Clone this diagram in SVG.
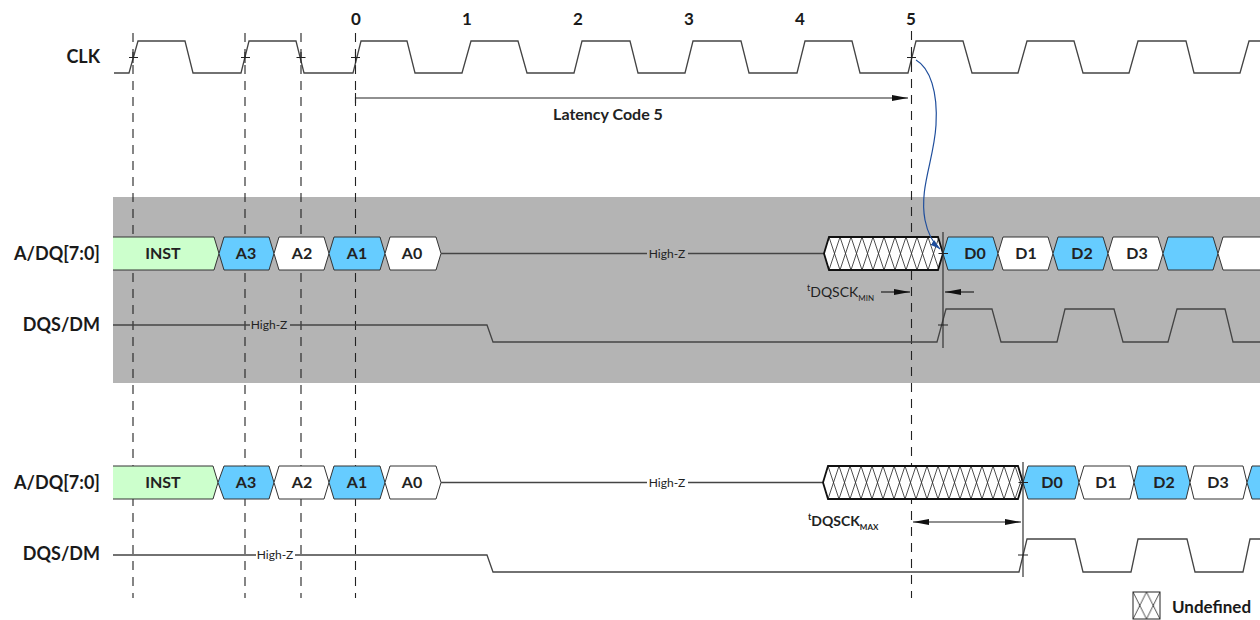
<svg xmlns="http://www.w3.org/2000/svg" width="1260" height="620" viewBox="0 0 1260 620">
<style>
.lbl{font-family:Lato,"Liberation Sans",sans-serif;font-weight:bold;font-size:18px;fill:#1a1a1a;text-anchor:end}
.num{font-family:Lato,"Liberation Sans",sans-serif;font-weight:bold;font-size:17px;fill:#1a1a1a;text-anchor:middle}
.box{font-family:Lato,"Liberation Sans",sans-serif;font-weight:bold;font-size:16px;fill:#222;text-anchor:middle}
.hz{font-family:Lato,"Liberation Sans",sans-serif;font-size:12px;fill:#222;text-anchor:middle}
.tm{font-family:Lato,"Liberation Sans",sans-serif;font-size:14px;fill:#222}
.wave{fill:none;stroke:#444;stroke-width:1.3}
.dash{fill:none;stroke:#222;stroke-width:1.1;stroke-dasharray:9,7}
.tick{fill:none;stroke:#222;stroke-width:1.1}
.hex{stroke:#333;stroke-width:1}
.blue{fill:#66ccff}
.white{fill:#ffffff}
.arr{fill:none;stroke:#222;stroke-width:1.2}
</style>
<defs>
<marker id="ah" viewBox="0 0 16 6" refX="16" refY="3" markerWidth="16" markerHeight="6" markerUnits="userSpaceOnUse" orient="auto-start-reverse">
<path d="M0,0 L16,3 L0,6 z" fill="#111"/>
</marker>
<marker id="ahb" viewBox="0 0 10 6" refX="10" refY="3" markerWidth="10" markerHeight="6" markerUnits="userSpaceOnUse" orient="auto">
<path d="M0,0 L10,3 L0,6 z" fill="#1f4e9c"/>
</marker>
<pattern id="hatchTop" patternUnits="userSpaceOnUse" x="829" y="237" width="11" height="33">
<rect width="11" height="33" fill="#fff"/>
<path d="M0,0 L11,33 M11,0 L0,33" stroke="#222" stroke-width="0.8"/>
</pattern>
<pattern id="hatchBot" patternUnits="userSpaceOnUse" x="828" y="466" width="11" height="33">
<rect width="11" height="33" fill="#fff"/>
<path d="M0,0 L11,33 M11,0 L0,33" stroke="#222" stroke-width="0.8"/>
</pattern>
<pattern id="hatchLeg" patternUnits="userSpaceOnUse" x="1133" y="592" width="13.5" height="27">
<rect width="13.5" height="27" fill="#fff"/>
<path d="M0,0 L13.5,27 M13.5,0 L0,27" stroke="#222" stroke-width="0.8"/>
</pattern>
</defs>

<rect width="1260" height="620" fill="#ffffff"/>
<rect id="band" x="113" y="197" width="1147" height="186" fill="#b4b4b4"/>

<g id="cycle-numbers">
<text class="num" x="356" y="25">0</text>
<text class="num" x="467" y="25">1</text>
<text class="num" x="578" y="25">2</text>
<text class="num" x="689" y="25">3</text>
<text class="num" x="800" y="25">4</text>
<text class="num" x="911" y="25">5</text>
</g>

<g id="guides">
<line class="dash" x1="133" y1="33" x2="133" y2="598"/>
<line class="dash" x1="245" y1="33" x2="245" y2="598"/>
<line class="dash" x1="301" y1="33" x2="301" y2="598"/>
<line class="dash" x1="355.5" y1="33" x2="355.5" y2="598"/>
<line class="dash" x1="911.5" y1="31" x2="911.5" y2="598"/>
</g>

<g id="clk">
<text class="lbl" x="100" y="63">CLK</text>
<path class="wave" d="M114,73 L129,73 L138,41 L185,41 L193,73 L241,73 L249,41 L296,41 L304,73 L353,73 L361,41 L407,41 L415,73 L462,73 L471,41 L518,41 L527,73 L574,73 L582,41 L630,41 L638,73 L685,73 L693,41 L741,41 L749,73 L797,73 L805,41 L852,41 L860,73 L908,73 L916,41 L963,41 L972,73 L1018,73 L1027,41 L1074,41 L1083,73 L1129,73 L1138,41 L1186,41 L1194,73 L1240,73 L1249,41 L1260,41"/>
<path class="tick" d="M129,57.5 H138 M133,52 V63 M241,57.5 H250 M245,52 V63 M296.5,57.5 H305.5 M301,52 V63 M351,57.5 H360 M355.5,52 V63 M907,57.5 H916 M911.5,52 V63"/>
</g>

<g id="top-adq">
<text class="lbl" x="100" y="260">A/DQ[7:0]</text>
<polygon points="113,237 214,237 219,253.5 214,270 113,270" fill="#ccffcc"/>
<polyline points="113,237 214,237 219,253.5 214,270 113,270" fill="none" stroke="#333" stroke-width="1"/>
<text class="box" x="163" y="259">INST</text>
<polygon class="hex blue" points="219,253.5 224,237 269,237 274,253.5 269,270 224,270"/>
<text class="box" x="246" y="259">A3</text>
<polygon class="hex white" points="274,253.5 279,237 324,237 329,253.5 324,270 279,270"/>
<text class="box" x="302" y="259">A2</text>
<polygon class="hex blue" points="329,253.5 334,237 380,237 385,253.5 380,270 334,270"/>
<text class="box" x="357" y="259">A1</text>
<polygon class="hex white" points="385,253.5 390,237 436,237 441,253.5 436,270 390,270"/>
<text class="box" x="412" y="259">A0</text>
<path class="wave" d="M441,253.5 H647 M688,253.5 H824"/>
<text class="hz" x="667" y="258">High-Z</text>
<polygon points="824,253.5 829,237 938,237 943,253.5 938,270 829,270" fill="url(#hatchTop)" stroke="#111" stroke-width="1.8"/>
<polygon class="hex blue" points="943,253.5 948,237 993,237 998,253.5 993,270 948,270"/>
<text class="box" x="975" y="259">D0</text>
<polygon class="hex white" points="998,253.5 1003,237 1048,237 1053,253.5 1048,270 1003,270"/>
<text class="box" x="1026" y="259">D1</text>
<polygon class="hex blue" points="1053,253.5 1058,237 1103,237 1108,253.5 1103,270 1058,270"/>
<text class="box" x="1082" y="259">D2</text>
<polygon class="hex white" points="1108,253.5 1113,237 1158,237 1163,253.5 1158,270 1113,270"/>
<text class="box" x="1137" y="259">D3</text>
<polygon class="hex blue" points="1163,253.5 1168,237 1213,237 1218,253.5 1213,270 1168,270"/>
<polygon class="hex white" points="1218,253.5 1223,237 1262,237 1262,270 1223,270"/>
</g>

<g id="top-dqs">
<text class="lbl" x="100" y="331">DQS/DM</text>
<path class="wave" d="M113,325 H250 M290,325 H487 L493,342 L937,342 L946,309 L992,309 L1001,342 L1057,342 L1065,309 L1114,309 L1123,342 L1168,342 L1177,309 L1225,309 L1233,342 L1260,342"/>
<text class="hz" x="269" y="329">High-Z</text>
</g>

<g id="bot-adq">
<text class="lbl" x="100" y="489">A/DQ[7:0]</text>
<polygon points="113,466 213,466 218,482.5 213,499 113,499" fill="#ccffcc"/>
<polyline points="113,466 213,466 218,482.5 213,499 113,499" fill="none" stroke="#333" stroke-width="1"/>
<text class="box" x="163" y="488">INST</text>
<polygon class="hex blue" points="218,482.5 224,466 269,466 274,482.5 269,499 224,499"/>
<text class="box" x="246" y="488">A3</text>
<polygon class="hex white" points="274,482.5 279,466 324,466 329,482.5 324,499 279,499"/>
<text class="box" x="302" y="488">A2</text>
<polygon class="hex blue" points="329,482.5 334,466 380,466 385,482.5 380,499 334,499"/>
<text class="box" x="357" y="488">A1</text>
<polygon class="hex white" points="385,482.5 390,466 436,466 441,482.5 436,499 390,499"/>
<text class="box" x="412" y="488">A0</text>
<path class="wave" d="M441,482.5 H647 M688,482.5 H823"/>
<text class="hz" x="667" y="487">High-Z</text>
<polygon points="823,482.5 828,466 1018,466 1023,482.5 1018,499 828,499" fill="url(#hatchBot)" stroke="#111" stroke-width="1.8"/>
<polygon class="hex blue" points="1023,482.5 1028,466 1075,466 1079,482.5 1075,499 1028,499"/>
<text class="box" x="1052" y="488">D0</text>
<polygon class="hex white" points="1079,482.5 1084,466 1130,466 1134,482.5 1130,499 1084,499"/>
<text class="box" x="1106" y="488">D1</text>
<polygon class="hex blue" points="1134,482.5 1138,466 1186,466 1190,482.5 1186,499 1138,499"/>
<text class="box" x="1164" y="488">D2</text>
<polygon class="hex white" points="1190,482.5 1194,466 1243,466 1247,482.5 1243,499 1194,499"/>
<text class="box" x="1218" y="488">D3</text>
<polygon class="hex blue" points="1247,482.5 1252,466 1262,466 1262,499 1252,499"/>
</g>

<g id="bot-dqs">
<text class="lbl" x="100" y="560">DQS/DM</text>
<path class="wave" d="M113,555 H256 M295,555 H487 L493,572 L1019,572 L1027,539 L1075,539 L1083,572 L1131,572 L1138,539 L1187,539 L1195,572 L1243,572 L1250,539 L1260,539"/>
<text class="hz" x="275" y="559">High-Z</text>
</g>

<g id="connectors">
<line class="arr" x1="355.5" y1="98" x2="908" y2="98" marker-end="url(#ah)"/>
<line class="tick" x1="355.5" y1="93" x2="355.5" y2="103"/>
<text class="tm" x="608" y="120" style="font-weight:bold;font-size:16px;text-anchor:middle">Latency Code 5</text>
<path d="M916,60 C930,68 938,92 936,125 C934,160 919,188 925,220 C928,235 933,243 940,249" fill="none" stroke="#1f4e9c" stroke-width="1.2" marker-end="url(#ahb)"/>
<line x1="943" y1="232" x2="943" y2="348" stroke="#333" stroke-width="1.2"/>
<path class="tick" d="M938.5,253.5 H948 M938,325 H948"/>
<line class="arr" x1="881" y1="292" x2="910" y2="292" marker-end="url(#ah)"/>
<line class="arr" x1="974" y1="292" x2="945" y2="292" marker-end="url(#ah)"/>
<text class="tm" x="807" y="297"><tspan font-size="9" dy="-6">t</tspan><tspan dy="6">DQSCK</tspan><tspan font-size="8" dy="4">MIN</tspan></text>
<line x1="1023" y1="462" x2="1023" y2="577" stroke="#333" stroke-width="1.2"/>
<path class="tick" d="M1018.5,482.5 H1028 M1018,555 H1028"/>
<line class="arr" x1="913" y1="522" x2="1021" y2="522" marker-start="url(#ah)" marker-end="url(#ah)"/>
<text class="tm" x="808" y="526" style="font-weight:bold"><tspan font-size="9" dy="-6">t</tspan><tspan dy="6">DQSCK</tspan><tspan font-size="8" dy="4">MAX</tspan></text>
</g>

<g id="legend">
<rect x="1133" y="592" width="27" height="27" fill="url(#hatchLeg)" stroke="#222" stroke-width="1"/>
<text x="1172" y="613" style="font-family:Lato,'Liberation Sans',sans-serif;font-weight:bold;font-size:17px;fill:#1a1a1a">Undefined</text>
</g>
</svg>
